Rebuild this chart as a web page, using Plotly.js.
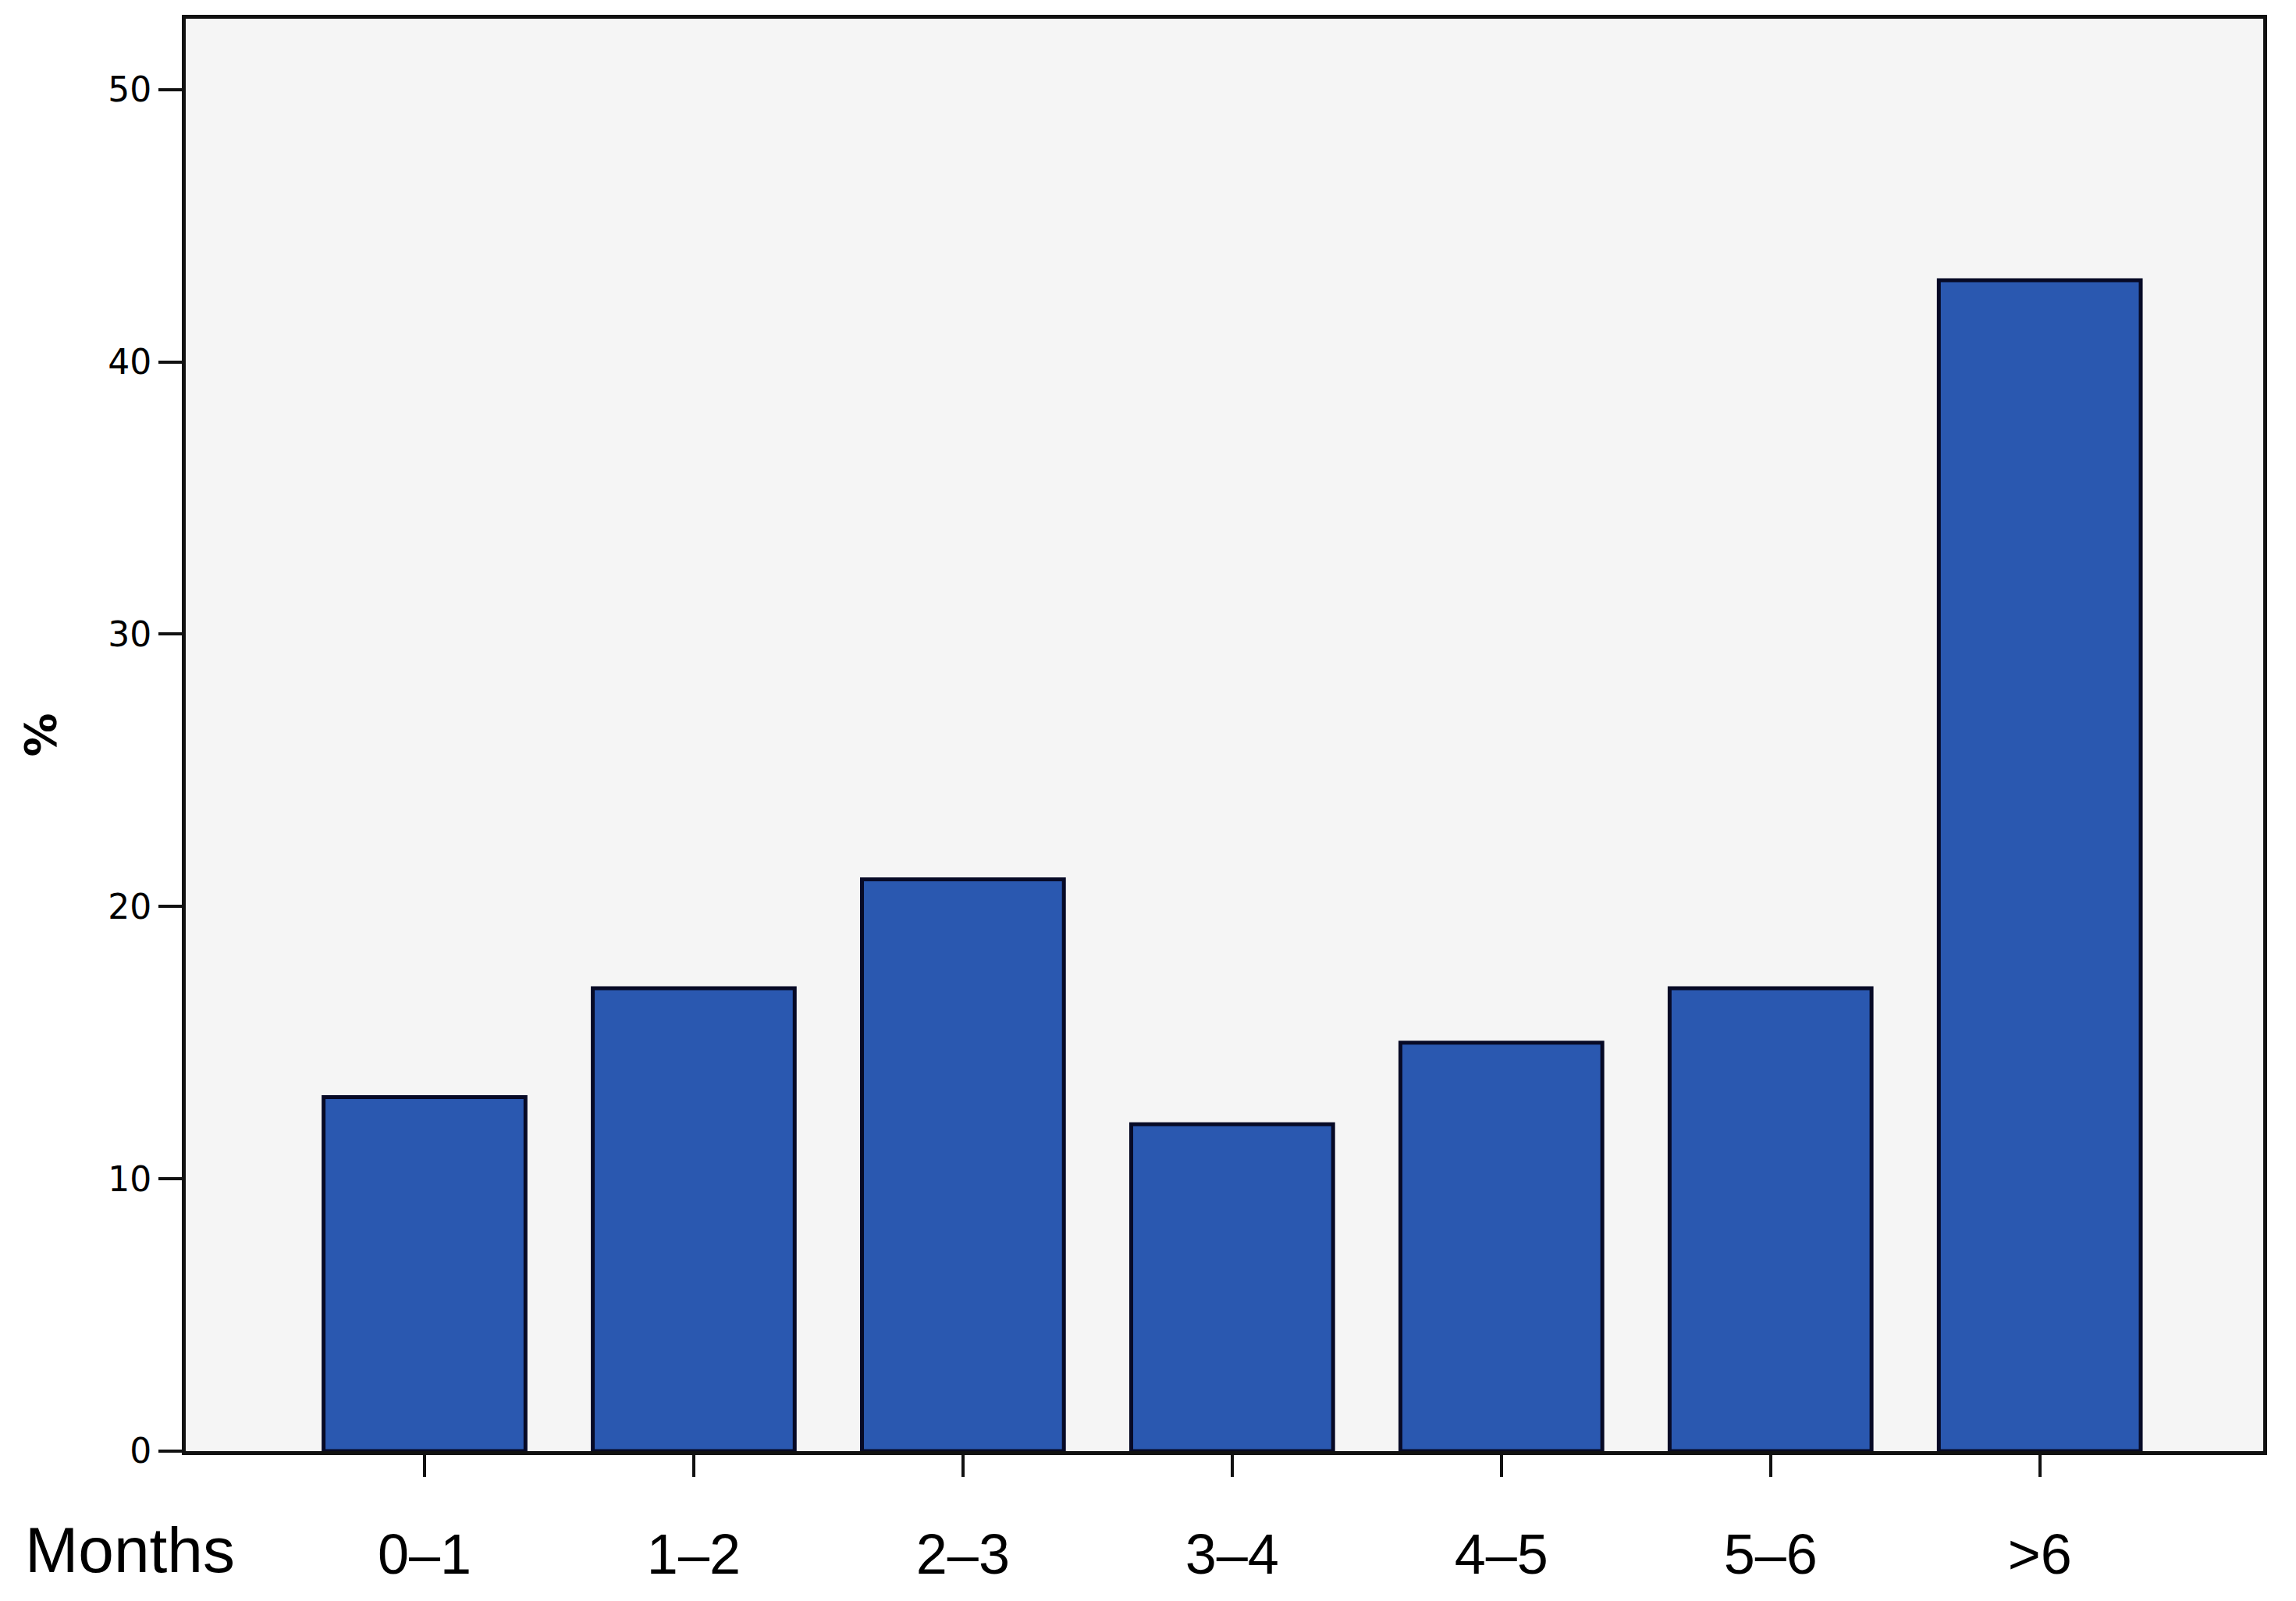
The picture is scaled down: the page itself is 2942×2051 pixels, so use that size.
<!DOCTYPE html>
<html>
<head>
<meta charset="utf-8">
<script src="https://cdn.plot.ly/plotly-3.0.1.min.js"></script>
<style>html,body{margin:0;padding:0;background:#fff;}#chart{width:2942px;height:2051px;}</style>
</head>
<body>
<div id="chart"></div>
<script>
const categories = ["0–1", "1–2", "2–3", "3–4", "4–5", "5–6", ">6"];
const percentValues = [13, 17, 21, 12, 15, 17, 43];
const yTickValues = [0, 10, 20, 30, 40, 50];
const xAxisLabel = "Months";
const yAxisLabel = "%";

const trace = {
  type: "bar",
  x: categories,
  y: percentValues,
  marker: {color: "#2a58b0", line: {color: "#070a26", width: 5}},
  width: 0.75,
  hoverinfo: "x+y"
};

const layout = {
  width: 2942,
  height: 2051,
  margin: {l: 238, r: 42, t: 24, b: 192},
  paper_bgcolor: "#ffffff",
  plot_bgcolor: "#f5f5f5",
  showlegend: false,
  bargap: 0.25,
  xaxis: {
    type: "category",
    range: [-0.887, 6.83],
    showline: true, linecolor: "#111111", linewidth: 5, mirror: true,
    ticks: "outside", ticklen: 28, tickwidth: 4, tickcolor: "#111111",
    ticklabelstandoff: 38,
    tickfont: {family: "Liberation Sans, Arial, sans-serif", size: 72, color: "#000"},
    showgrid: false, zeroline: false
  },
  yaxis: {
    range: [0, 52.6],
    tickvals: yTickValues,
    showline: true, linecolor: "#111111", linewidth: 5, mirror: true,
    ticks: "outside", ticklen: 30, tickwidth: 4, tickcolor: "#111111",
    tickfont: {family: "DejaVu Sans, sans-serif", size: 44, color: "#000"},
    showgrid: false, zeroline: false,
    title: {text: yAxisLabel, standoff: 50, font: {family: "DejaVu Sans, sans-serif", size: 56, color: "#000", weight: "bold"}}
  },
  annotations: [{
    text: xAxisLabel, xref: "paper", yref: "paper",
    x: -0.0267, y: -0.0687, xanchor: "center", yanchor: "middle",
    showarrow: false,
    font: {family: "Liberation Sans, Arial, sans-serif", size: 82, color: "#000"}
  }]
};

Plotly.newPlot("chart", [trace], layout, {displayModeBar: false, staticPlot: true});
</script>
</body>
</html>
